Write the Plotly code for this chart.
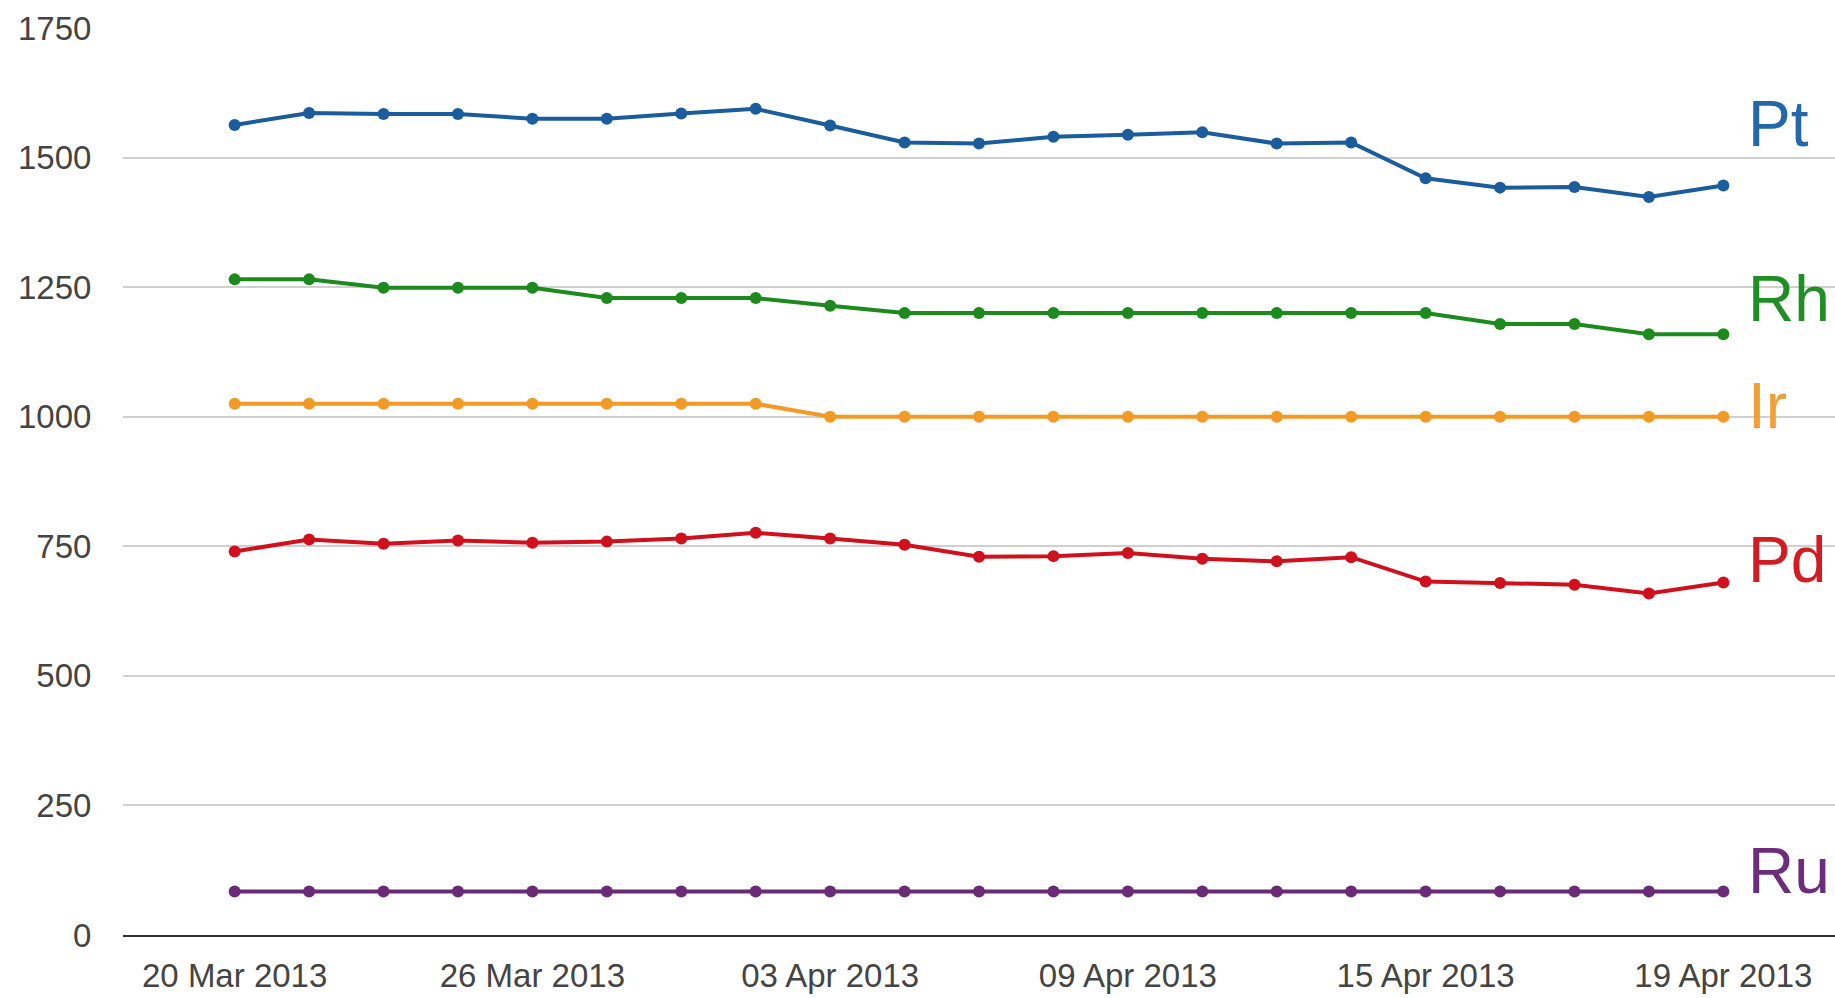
import plotly.graph_objects as go

dates = ["20 Mar 2013", "21 Mar 2013", "22 Mar 2013", "25 Mar 2013", "26 Mar 2013",
         "27 Mar 2013", "28 Mar 2013", "02 Apr 2013", "03 Apr 2013", "04 Apr 2013",
         "05 Apr 2013", "08 Apr 2013", "09 Apr 2013", "10 Apr 2013", "11 Apr 2013",
         "12 Apr 2013", "15 Apr 2013", "16 Apr 2013", "17 Apr 2013", "18 Apr 2013",
         "19 Apr 2013"]
tick_labels = ["20 Mar 2013", "26 Mar 2013", "03 Apr 2013", "09 Apr 2013", "15 Apr 2013", "19 Apr 2013"]

pt = [1563, 1586, 1584, 1584, 1575, 1575, 1585, 1594, 1562, 1529, 1527, 1540, 1544, 1549, 1527, 1529, 1460, 1442, 1443, 1424, 1446]
rh = [1265, 1265, 1249, 1249, 1249, 1229, 1229, 1229, 1214, 1200, 1200, 1200, 1200, 1200, 1200, 1200, 1200, 1179, 1179, 1159, 1159]
ir = [1025, 1025, 1025, 1025, 1025, 1025, 1025, 1025, 1000, 1000, 1000, 1000, 1000, 1000, 1000, 1000, 1000, 1000, 1000, 1000, 1000]
pd_ = [740, 763, 755, 761, 757, 759, 765, 776, 765, 753, 730, 731, 737, 726, 721, 729, 682, 679, 676, 659, 680]
ru = [84] * 21

series = [
    ("Pt", pt, "#1b5c9c", "#2368ab", 1565),
    ("Rh", rh, "#1d8a1d", "#1f8f24", 1228),
    ("Ir", ir, "#f39a26", "#f0a035", 1021),
    ("Pd", pd_, "#d0101c", "#d21c22", 724),
    ("Ru", ru, "#6a2a78", "#6c2e7c", 124),
]

x = list(range(len(dates)))
fig = go.Figure()
for name, vals, col, lcol, ly in series:
    fig.add_trace(go.Scatter(
        x=x, y=vals, mode="lines+markers", name=name,
        line=dict(color=col, width=4),
        marker=dict(color=col, size=12),
        showlegend=False, hoverinfo="skip",
    ))
    fig.add_annotation(x=20.3, y=ly, xref="x", yref="y", text=name,
                       showarrow=False, xanchor="left", yanchor="middle",
                       font=dict(family="Liberation Sans, Arial", size=64, color=lcol))

tickvals = [dates.index(t) for t in tick_labels]

fig.update_layout(
    width=1835, height=998,
    margin=dict(l=123, r=0, t=28, b=63),
    plot_bgcolor="white", paper_bgcolor="white",
    font=dict(family="Liberation Sans, Arial", color="#444444"),
    xaxis=dict(range=[-1.5, 21.5], tickvals=tickvals, ticktext=tick_labels,
               showgrid=False, zeroline=False, showline=True, linecolor="#333333", linewidth=2,
               tickfont=dict(size=33, color="#444444"), ticks="outside", ticklen=10,
               tickcolor="rgba(0,0,0,0)"),
    yaxis=dict(range=[0, 1750], tickvals=[0, 250, 500, 750, 1000, 1250, 1500, 1750],
               showgrid=True, gridcolor="#d0d0d0", gridwidth=2, zeroline=False,
               tickfont=dict(size=33, color="#444444"), ticks="outside", ticklen=24,
               tickcolor="rgba(0,0,0,0)"),
)
fig.write_html("out.html")
